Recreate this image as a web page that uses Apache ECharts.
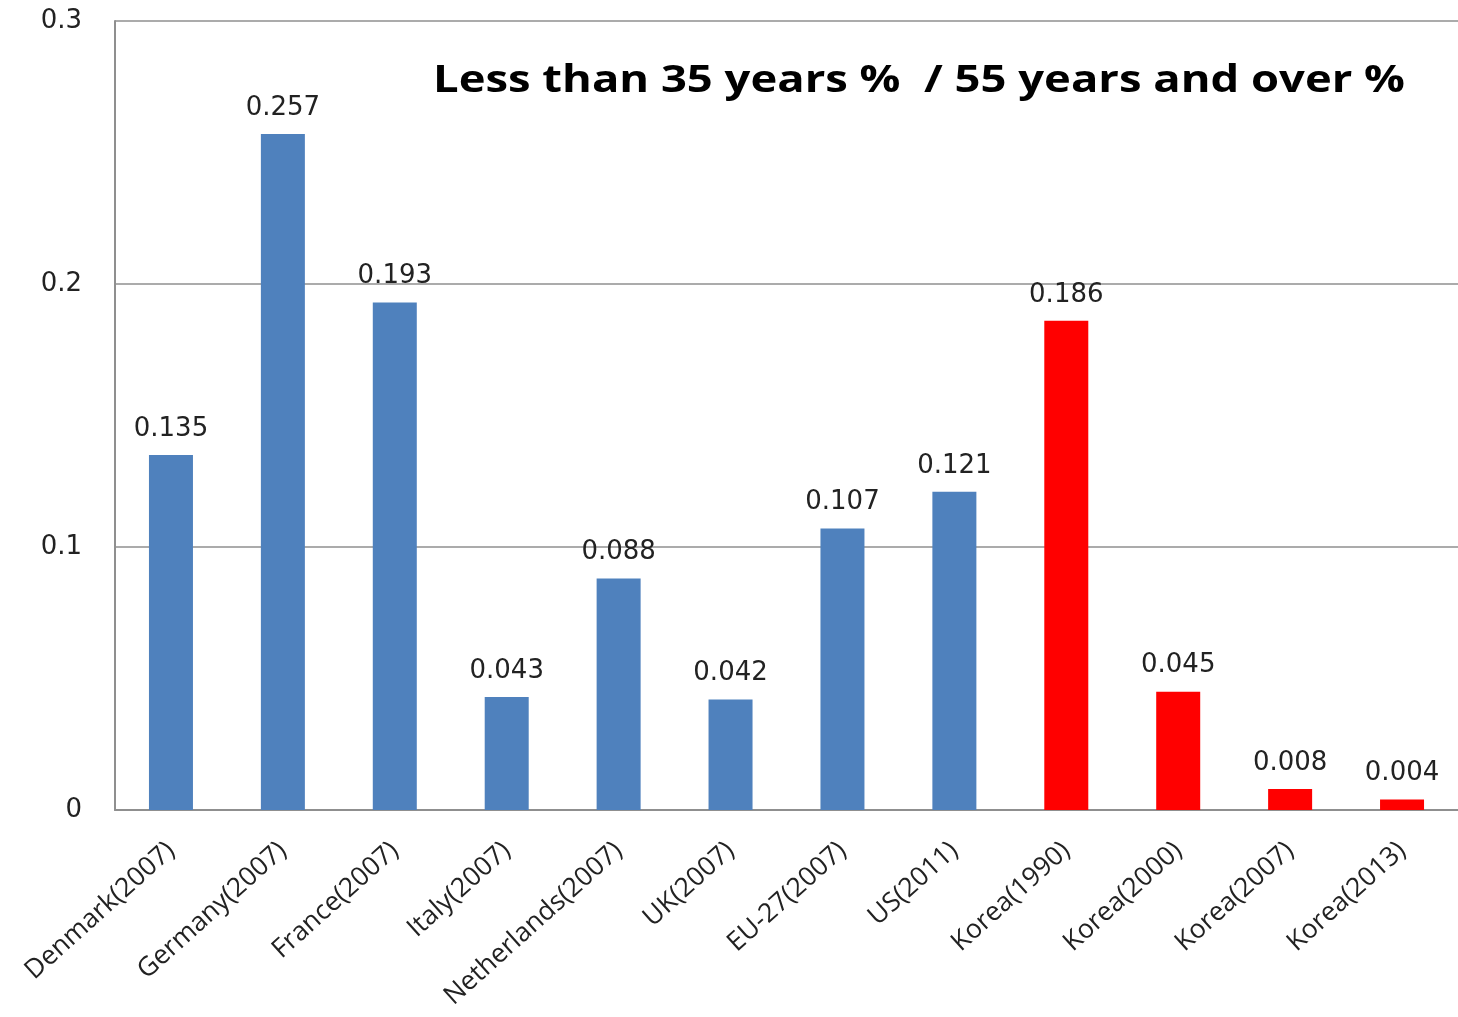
<!DOCTYPE html>
<html>
<head>
<meta charset="utf-8">
<script src="https://cdn.jsdelivr.net/npm/echarts@6/dist/echarts.min.js"></script>
<style>
  html, body { margin: 0; padding: 0; background: #fff; }
  #chart { width: 1458px; height: 1017px; }
</style>
</head>
<body>
<div id="chart"></div>
<script>
// Ratio of workers under 35 to workers 55 and over, by country/year
const categories = [
  'Denmark(2007)', 'Germany(2007)', 'France(2007)', 'Italy(2007)',
  'Netherlands(2007)', 'UK(2007)', 'EU-27(2007)', 'US(2011)',
  'Korea(1990)', 'Korea(2000)', 'Korea(2007)', 'Korea(2013)'
];
const ratios = [0.135, 0.257, 0.193, 0.043, 0.088, 0.042, 0.107, 0.121, 0.186, 0.045, 0.008, 0.004];
const isKorea = [false, false, false, false, false, false, false, false, true, true, true, true];
const yTicks = [0, 0.1, 0.2, 0.3];
const titleText = 'Less than 35 years %  / 55 years and over %';

const BLUE = '#4F81BD';
const RED = '#FF0000';
const GRID_GRAY = '#8f8f8f';

// Title is drawn in a bold face, stretched horizontally to span its box
const TITLE_FAMILY = 'Open Sans';
const TITLE_SIZE = 37;
const TITLE_WIDTH = 972;
const measureCtx = document.createElement('canvas').getContext('2d');
measureCtx.font = 'bold ' + TITLE_SIZE + 'px "' + TITLE_FAMILY + '"';
const titleScaleX = TITLE_WIDTH / measureCtx.measureText(titleText).width;

const chart = echarts.init(document.getElementById('chart'), null, { renderer: 'canvas' });

chart.setOption({
  animation: false,
  backgroundColor: '#ffffff',
  graphic: [{
    type: 'text',
    x: 433,
    y: 81,
    scaleX: titleScaleX,
    z: 10,
    style: {
      text: titleText,
      fontFamily: TITLE_FAMILY,
      fontSize: TITLE_SIZE,
      fontWeight: 'bold',
      fill: '#000',
      align: 'left',
      verticalAlign: 'middle'
    }
  }],
  grid: { left: 115, right: 0, top: 21, bottom: 207, containLabel: false },
  xAxis: {
    type: 'category',
    data: categories,
    axisLine: { show: true, lineStyle: { color: GRID_GRAY, width: 2 } },
    axisTick: { show: false },
    axisLabel: {
      rotate: 42,
      margin: 37,
      interval: 0,
      fontFamily: 'Open Sans',
      fontSize: 26.5,
      color: '#222'
    }
  },
  yAxis: {
    type: 'value',
    min: yTicks[0],
    max: yTicks[yTicks.length - 1],
    interval: 0.1,
    axisLine: { show: true, lineStyle: { color: GRID_GRAY, width: 2 } },
    axisTick: { show: false },
    splitLine: { show: true, lineStyle: { color: GRID_GRAY, width: 1.5 } },
    axisLabel: {
      margin: 33,
      fontFamily: 'DejaVu Sans',
      fontSize: 26,
      color: '#222',
      formatter: v => String(Math.round(v * 10) / 10)
    }
  },
  series: [{
    type: 'bar',
    barWidth: 44,
    data: ratios.map((v, i) => ({
      value: v,
      itemStyle: { color: isKorea[i] ? RED : BLUE }
    })),
    label: {
      show: true,
      position: 'top',
      distance: 13,
      fontFamily: 'DejaVu Sans',
      fontSize: 26,
      color: '#222',
      formatter: p => p.value.toFixed(3)
    }
  }]
});
</script>
</body>
</html>
